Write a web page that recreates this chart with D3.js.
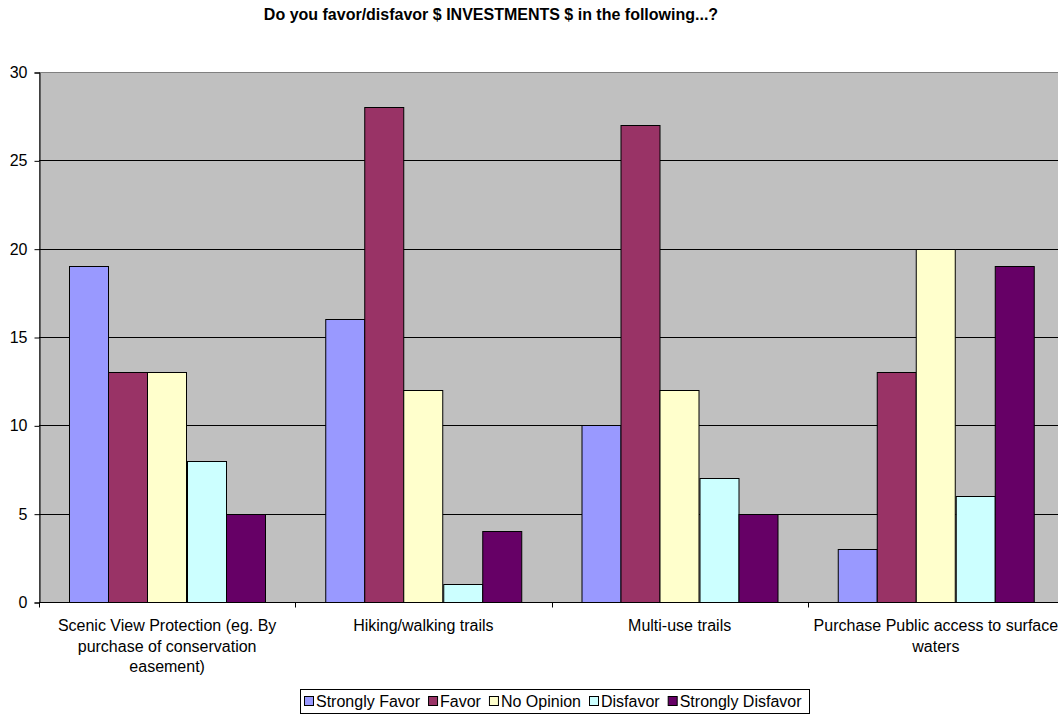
<!DOCTYPE html>
<html>
<head>
<meta charset="utf-8">
<script src="https://cdn.jsdelivr.net/npm/d3@7"></script>
<style>
  html, body { margin: 0; padding: 0; background: #fff; }
  svg { display: block; font-family: "Liberation Sans", Arial, sans-serif; }
</style>
</head>
<body>
<svg id="chart" width="1058" height="715"></svg>
<script>
// Survey question categories (x axis)
const categories = [
  "Scenic View Protection (eg. By purchase of conservation easement)",
  "Hiking/walking trails",
  "Multi-use trails",
  "Purchase Public access to surface waters"
];
// Label lines for each category, as wrapped under the axis
const categoryLines = [
  ["Scenic View Protection (eg. By", "purchase of conservation", "easement)"],
  ["Hiking/walking trails"],
  ["Multi-use trails"],
  ["Purchase Public access to surface", "waters"]
];
// Response series
const seriesNames = ["Strongly Favor", "Favor", "No Opinion", "Disfavor", "Strongly Disfavor"];
const seriesColors = ["#9999FF", "#993366", "#FFFFCC", "#CCFFFF", "#660066"];
// Counts per category, one array per series
const stronglyFavor    = [19, 16, 10, 3];
const favor            = [13, 28, 27, 13];
const noOpinion        = [13, 12, 12, 20];
const disfavor         = [8, 1, 7, 6];
const stronglyDisfavor = [5, 4, 5, 19];
const yTicks = [0, 5, 10, 15, 20, 25, 30];

const seriesValues = [stronglyFavor, favor, noOpinion, disfavor, stronglyDisfavor];

const FONT = 16;
const svg = d3.select("#chart");
const plot = { left: 39, top: 72, right: 1064, bottom: 602 };

const x0 = d3.scaleBand()
  .domain(d3.range(categories.length))
  .range([plot.left, plot.right])
  .paddingInner(0).paddingOuter(0);

// Bars inside each group, with a gap of 1.5 bar widths between groups
const x1 = d3.scaleBand()
  .domain(d3.range(seriesNames.length))
  .range([0, x0.bandwidth()])
  .paddingInner(0)
  .paddingOuter(0.75);

const y = d3.scaleLinear().domain([0, 30]).range([plot.bottom, plot.top]);

// Title
svg.append("text")
  .attr("x", 491).attr("y", 20)
  .attr("text-anchor", "middle")
  .attr("font-size", FONT).attr("font-weight", "bold")
  .text("Do you favor/disfavor $ INVESTMENTS $ in the following...?");

// Plot background
svg.append("rect")
  .attr("x", plot.left + 0.5).attr("y", plot.top + 0.5)
  .attr("width", plot.right - plot.left).attr("height", plot.bottom - plot.top)
  .attr("fill", "#C0C0C0")
  .attr("stroke", "#808080").attr("stroke-width", 1);

// Horizontal gridlines
svg.append("g").selectAll("line")
  .data(yTicks.filter(t => t > 0 && t < 30))
  .join("line")
  .attr("x1", plot.left).attr("x2", plot.right)
  .attr("y1", d => Math.round(y(d)) + 0.5).attr("y2", d => Math.round(y(d)) + 0.5)
  .attr("stroke", "#000").attr("stroke-width", 1);

// Bars
const groups = svg.append("g").selectAll("g")
  .data(categories.map((c, i) => i))
  .join("g")
  .attr("transform", i => `translate(${x0(i)},0)`);

groups.selectAll("rect")
  .data(i => seriesValues.map((vals, s) => ({ s, v: vals[i] })))
  .join("rect")
  .attr("x", d => Math.round(x1(d.s)) + 0.5)
  .attr("y", d => Math.round(y(d.v)) + 0.5)
  .attr("width", Math.round(x1.bandwidth()))
  .attr("height", d => Math.round(y(0)) - Math.round(y(d.v)))
  .attr("fill", d => seriesColors[d.s])
  .attr("stroke", "#000").attr("stroke-width", 1);

// Y axis
const yAxis = svg.append("g")
  .attr("transform", `translate(${plot.left + 0.5},0.5)`)
  .call(d3.axisLeft(y).tickValues(yTicks).tickSize(5).tickPadding(7).tickFormat(d3.format("d")));
yAxis.select(".domain").attr("stroke", "#000");
yAxis.selectAll(".tick line").attr("stroke", "#000");
yAxis.selectAll(".tick text").attr("font-size", FONT).attr("fill", "#000")
  .attr("font-family", "Liberation Sans, Arial, sans-serif");

// X axis baseline and category ticks
const xAxisG = svg.append("g")
  .attr("transform", `translate(0,${Math.round(y(0)) + 0.5})`);
xAxisG.append("line")
  .attr("x1", plot.left).attr("x2", plot.right)
  .attr("stroke", "#000");
xAxisG.selectAll("line.tick")
  .data(d3.range(categories.length + 1))
  .join("line")
  .attr("class", "tick")
  .attr("x1", i => Math.round(plot.left + i * x0.bandwidth()) + 0.5)
  .attr("x2", i => Math.round(plot.left + i * x0.bandwidth()) + 0.5)
  .attr("y1", 0).attr("y2", 5)
  .attr("stroke", "#000");

// Category labels
const labels = svg.append("g").selectAll("text")
  .data(categoryLines)
  .join("text")
  .attr("text-anchor", "middle")
  .attr("font-size", FONT)
  .attr("fill", "#000");
labels.each(function (lines, i) {
  const cx = x0(i) + x0.bandwidth() / 2;
  d3.select(this).selectAll("tspan")
    .data(lines)
    .join("tspan")
    .attr("x", cx)
    .attr("y", (d, k) => 631 + k * 20.5)
    .text(d => d);
});

// Legend
const legendBox = svg.append("rect");
const legend = svg.append("g");
let lx = 0;
seriesNames.forEach((name, i) => {
  const g = legend.append("g");
  g.append("rect")
    .attr("x", lx + 0.5).attr("y", -10.5)
    .attr("width", 9).attr("height", 9)
    .attr("fill", seriesColors[i]).attr("stroke", "#000");
  const t = g.append("text")
    .attr("x", lx + 12).attr("y", 0)
    .attr("font-size", FONT).attr("fill", "#000")
    .text(name);
  lx += 12 + t.node().getComputedTextLength();
  if (i < seriesNames.length - 1) lx += 8;
});
const legendRight = 809;
const legendW = lx + 4 + 7;
const legendLeft = Math.round(legendRight - legendW);
legend.attr("transform", `translate(${legendLeft + 4},707)`);
legendBox
  .attr("x", legendLeft + 0.5).attr("y", 689.5)
  .attr("width", legendRight - legendLeft).attr("height", 24)
  .attr("fill", "#fff").attr("stroke", "#000");
</script>
</body>
</html>
